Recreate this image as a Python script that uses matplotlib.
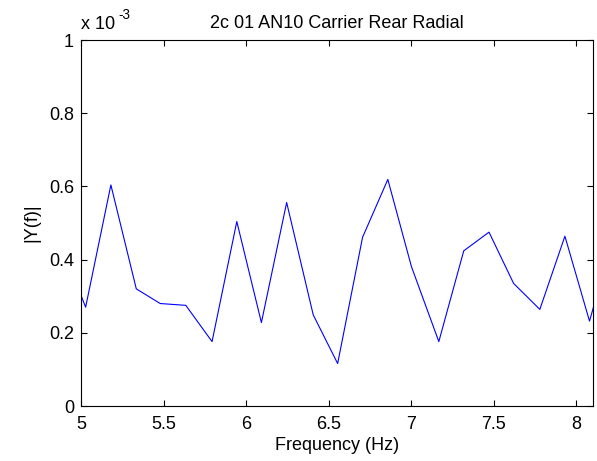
import matplotlib.pyplot as plt
from matplotlib.ticker import FuncFormatter

plt.rcParams['font.family'] = ['Liberation Sans', 'DejaVu Sans']

# frequency (Hz) and |Y(f)| in units of 1e-3
freq = [4.876, 5.028, 5.181, 5.335, 5.480, 5.635, 5.794, 5.944, 6.093, 6.246,
        6.407, 6.555, 6.706, 6.859, 7.002, 7.168, 7.319, 7.472, 7.621, 7.780,
        7.932, 8.081, 8.234]
amp = [0.446, 0.270, 0.604, 0.320, 0.280, 0.275, 0.176, 0.504, 0.228, 0.556,
       0.249, 0.116, 0.461, 0.619, 0.381, 0.176, 0.424, 0.475, 0.335, 0.264,
       0.464, 0.232, 0.475]
xticks = [5, 5.5, 6, 6.5, 7, 7.5, 8]
yticks = [0, 0.2, 0.4, 0.6, 0.8, 1]

fs = 13
fig = plt.figure(figsize=(5.97, 4.61), dpi=100)
ax = fig.add_axes([0.1357, 0.1193, 0.857, 0.7939])
ax.plot(freq, amp, color='#0000ff', linewidth=0.8)
ax.set_xlim(5, 8.1)
ax.set_ylim(0, 1)
ax.set_xticks(xticks)
ax.set_yticks(yticks)
fmt = FuncFormatter(lambda v, p: '%g' % v)
ax.xaxis.set_major_formatter(fmt)
ax.yaxis.set_major_formatter(fmt)
ax.tick_params(direction='in', top=True, right=True, labelsize=fs, length=4, width=0.8)
ax.tick_params(axis='x', pad=7)
ax.tick_params(axis='y', pad=5)
for s in ax.spines.values():
    s.set_linewidth(0.8)
ax.set_xlabel('Frequency (Hz)', fontsize=fs, labelpad=3)
ax.set_ylabel('|Y(f)|', fontsize=fs, labelpad=6)
ax.set_title('2c 01 AN10 Carrier Rear Radial', fontsize=fs, pad=9)
ax.text(0, 1.018, 'x 10', transform=ax.transAxes, fontsize=fs, va='bottom', ha='left')
ax.text(0.074, 1.05, '-3', transform=ax.transAxes, fontsize=fs * 0.75, va='bottom', ha='left')

fig.savefig('out.png', dpi=100)
